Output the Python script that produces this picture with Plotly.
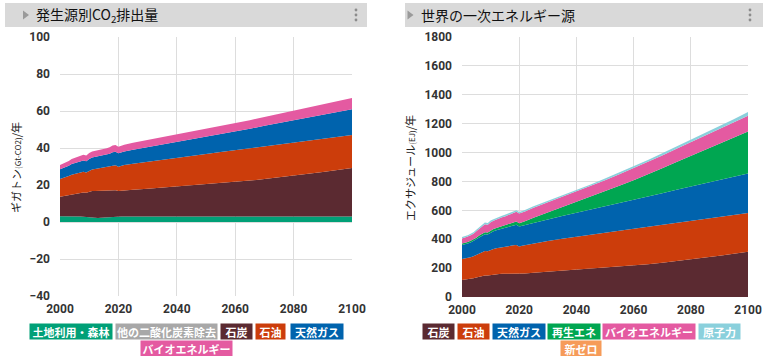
import plotly.graph_objects as go

# ---------------- data ----------------
years = list(range(2000, 2023)) + list(range(2025, 2101, 5))

# CO2 emissions by source (Gt-CO2/yr), stacked
co2_land = [3.1, 3.1, 3.2, 3.2, 3.3, 3.3, 3.2, 3.0, 2.8, 2.6, 2.5, 2.3, 2.2, 2.2, 2.3, 2.4, 2.6, 2.8, 3.0, 3.0, 3.0, 3.0, 3.0] + [3.0] * 16
co2_other_cdr = [0.0] * 39
co2_coal = [10.6, 10.9, 11.1, 11.6, 11.9, 12.1, 12.4, 13.0, 13.2, 13.2, 13.9, 14.5, 14.6, 14.7, 14.6, 14.4, 14.2, 14.1, 14.1, 14.1, 13.8, 14.0, 14.2,
            14.5, 15.0, 15.6, 16.0, 16.6, 17.2, 17.9, 18.6, 19.4, 20.2, 21.1, 22.0, 23.0, 24.0, 25.1, 26.2]
co2_oil = [9.5, 9.6, 9.8, 10.0, 10.4, 10.6, 10.8, 11.0, 11.1, 11.0, 11.4, 11.6, 11.8, 12.0, 12.2, 12.5, 12.8, 13.1, 13.4, 13.6, 13.1, 13.3, 13.6,
           14.0, 14.6, 15.2, 15.8, 16.2, 16.6, 16.9, 17.2, 17.4, 17.6, 17.8, 17.8, 17.8, 17.8, 17.8, 17.8]
co2_gas = [5.3, 5.4, 5.5, 5.6, 5.7, 5.8, 5.9, 6.0, 6.1, 6.0, 6.3, 6.4, 6.5, 6.6, 6.6, 6.7, 6.8, 6.9, 7.2, 7.3, 7.2, 7.3, 7.3,
           7.5, 7.8, 8.1, 8.4, 8.7, 9.1, 9.6, 10.1, 10.6, 11.2, 11.7, 12.2, 12.7, 13.2, 13.6, 14.0]
co2_bio = [2.3, 2.4, 2.5, 2.6, 2.7, 2.8, 2.9, 3.0, 3.1, 3.1, 3.2, 3.3, 3.3, 3.4, 3.4, 3.5, 3.5, 3.5, 3.6, 3.6, 3.6, 3.6, 3.7,
           3.8, 3.9, 4.0, 4.1, 4.2, 4.3, 4.4, 4.5, 4.6, 4.75, 4.9, 5.1, 5.3, 5.5, 5.75, 6.0]

# Primary energy (EJ/yr), stacked
pe_coal = [118, 120, 122, 126, 130, 135, 140, 145, 148, 148, 152, 156, 158, 160, 161, 161, 161, 162, 163, 163, 160, 162, 163,
           168, 175, 182, 189, 196, 203, 210, 218, 226, 237, 248, 260, 272, 285, 299, 314]
pe_oil = [145, 146, 148, 150, 152, 157, 162, 167, 170, 168, 174, 177, 180, 182, 185, 187, 190, 193, 195, 197, 190, 192, 195,
          203, 213, 222, 230, 237, 243, 249, 254, 259, 263, 266, 267, 267, 267, 267, 267]
pe_gas = [97, 98, 100, 102, 104, 107, 110, 114, 117, 116, 120, 122, 124, 126, 128, 130, 132, 134, 137, 140, 138, 139, 141,
          145, 151, 157, 164, 172, 181, 190, 199, 209, 219, 229, 239, 248, 257, 266, 274]
pe_renew = [10, 10, 11, 11, 12, 12, 13, 13, 14, 14, 15, 15, 16, 16, 17, 18, 19, 20, 21, 22, 23, 24, 25,
            33, 46, 60, 74, 89, 105, 121, 138, 155, 173, 192, 211, 230, 250, 270, 291]
pe_bio = [35, 36, 37, 39, 40, 44, 48, 52, 55, 55, 57, 58, 59, 60, 61, 62, 63, 64, 66, 68, 67, 67, 68,
          69, 70, 71, 72, 74, 76, 79, 82, 85, 88, 91, 94, 97, 100, 104, 108]
pe_nuclear = [10, 10, 10, 10, 10, 10, 11, 11, 11, 11, 11, 11, 11, 11, 11, 11, 11, 11, 11, 11, 11, 11, 11,
              11, 11, 11, 11, 11, 12, 12, 13, 14, 15, 16, 18, 20, 22, 25, 27]
pe_newzero = [0] * 39

co2_names = ["土地利用・森林", "他の二酸化炭素除去", "石炭", "石油", "天然ガス", "バイオエネルギー"]
pe_names = ["石炭", "石油", "天然ガス", "再生エネ", "バイオエネルギー", "原子力", "新ゼロ"]

x_ticks = [2000, 2020, 2040, 2060, 2080, 2100]
co2_ticks = [-40, -20, 0, 20, 40, 60, 80, 100]
pe_ticks = [0, 200, 400, 600, 800, 1000, 1200, 1400, 1600, 1800]

# ---------------- style ----------------
C = {
    "土地利用・森林": "#00a077",
    "他の二酸化炭素除去": "#a8a8a8",
    "石炭": "#5b2a31",
    "石油": "#cc3d0b",
    "天然ガス": "#0063ad",
    "バイオエネルギー": "#e45aa1",
    "再生エネ": "#00a651",
    "原子力": "#8ad0dc",
    "新ゼロ": "#f69b59",
}

W, H = 767, 356
def px(x):
    return x / W
def py(y):
    return 1 - y / H

fig = go.Figure()

co2_series = [co2_land, co2_other_cdr, co2_coal, co2_oil, co2_gas, co2_bio]
for name, vals in zip(co2_names, co2_series):
    fig.add_trace(go.Scatter(x=years, y=vals, name=name, stackgroup="co2", mode="lines",
                             line=dict(width=0, color=C[name]), fillcolor=C[name],
                             xaxis="x", yaxis="y", showlegend=False, hoverinfo="x+y+name"))

pe_series = [pe_coal, pe_oil, pe_gas, pe_renew, pe_bio, pe_nuclear, pe_newzero]
for name, vals in zip(pe_names, pe_series):
    fig.add_trace(go.Scatter(x=years, y=vals, name=name, stackgroup="pe", mode="lines",
                             line=dict(width=0, color=C[name]), fillcolor=C[name],
                             xaxis="x2", yaxis="y2", showlegend=False, hoverinfo="x+y+name"))

tickfont = dict(family="Roboto", size=12, color="#333333", weight="bold")
grid = "#dddddd"
ax_common = dict(showgrid=True, gridcolor=grid, gridwidth=1, zeroline=False, showline=False,
                 tickfont=tickfont, ticks="", automargin=False)

fig.update_layout(
    width=W, height=H, margin=dict(l=0, r=0, t=0, b=0, autoexpand=False),
    paper_bgcolor="white", plot_bgcolor="white",
    xaxis=dict(domain=[px(60), px(352)], range=[2000, 2100], tickvals=x_ticks, anchor="y",
               ticklabelstandoff=4, **ax_common),
    yaxis=dict(domain=[py(296), py(37)], range=[-40, 100], tickvals=co2_ticks, anchor="x",
               ticklabelstandoff=9, **ax_common),
    xaxis2=dict(domain=[px(462), px(748)], range=[2000, 2100], tickvals=x_ticks, anchor="y2",
                ticklabelstandoff=4, **ax_common),
    yaxis2=dict(domain=[py(297), py(37)], range=[0, 1800], tickvals=pe_ticks, anchor="x2",
                ticklabelstandoff=9, **ax_common),
)

shapes = []
ann = []
# header bars
for x0, x1 in [(5, 367), (405, 763)]:
    shapes.append(dict(type="rect", xref="paper", yref="paper", x0=px(x0), x1=px(x1), y0=py(27), y1=py(3),
                       fillcolor="#d9d9d9", line=dict(width=0), layer="below"))
# header triangles
for cx in [26, 410.5]:
    shapes.append(dict(type="path", xref="paper", yref="paper",
                       path=f"M {px(cx-3)} {py(10.5)} L {px(cx+3)} {py(15)} L {px(cx-3)} {py(19.5)} Z",
                       fillcolor="#9a9a9a", line=dict(width=0)))
# vertical ellipsis dots
for cx in [356, 750]:
    for cy in [10, 15, 20]:
        shapes.append(dict(type="circle", xref="paper", yref="paper",
                           x0=px(cx - 1.4), x1=px(cx + 1.4), y0=py(cy + 1.4), y1=py(cy - 1.4),
                           fillcolor="#8c8c8c", line=dict(width=0)))

title_font = dict(family="Noto Sans CJK JP", size=14, color="#111111")
ann.append(dict(text="発生源別CO<sub>2</sub>排出量", x=px(34), y=py(15), xref="paper", yref="paper",
                xanchor="left", yanchor="middle", showarrow=False, font=title_font))
ann.append(dict(text="世界の一次エネルギー源", x=px(419), y=py(15), xref="paper", yref="paper",
                xanchor="left", yanchor="middle", showarrow=False, font=title_font))

# y axis titles
ytf = dict(family="Noto Sans CJK JP", size=11, color="#222222")
ann.append(dict(text="ギガトン<span style='font-size:8px'>(Gt-CO2)</span>/年", x=px(16), y=py(168),
                xref="paper", yref="paper", textangle=-90, showarrow=False, font=ytf,
                xanchor="center", yanchor="middle"))
ann.append(dict(text="エクサジュール<span style='font-size:8px'>(EJ)</span>/年", x=px(410), y=py(168),
                xref="paper", yref="paper", textangle=-90, showarrow=False, font=ytf,
                xanchor="center", yanchor="middle"))

# legend boxes (center x, center y, width)
leg = [
    ("土地利用・森林", 71, 331, 82),
    ("他の二酸化炭素除去", 166.5, 331, 101),
    ("石炭", 236.5, 331, 31),
    ("石油", 270, 331, 29),
    ("天然ガス", 317, 331, 52),
    ("バイオエネルギー", 186.5, 348, 91),
    ("石炭", 438.5, 331, 31),
    ("石油", 473.5, 331, 31),
    ("天然ガス", 519, 331, 52),
    ("再生エネ", 574, 331, 52),
    ("バイオエネルギー", 649, 331, 92),
    ("原子力", 719.5, 331, 41),
    ("新ゼロ", 581, 348, 40),
]
lf = dict(family="Noto Sans CJK JP", size=11, color="white", weight="bold")
for name, cx, cy, w in leg:
    ann.append(dict(text=name, x=px(cx), y=py(cy), xref="paper", yref="paper", showarrow=False,
                    xanchor="center", yanchor="middle", width=w, height=15, bgcolor=C[name],
                    borderpad=0, font=lf, align="center", valign="middle"))

fig.update_layout(shapes=shapes, annotations=ann)
fig.write_html("out.html", config={"displayModeBar": False},
               post_script="document.body.style.margin='0';document.body.style.padding='0';document.body.style.overflow='hidden';")
